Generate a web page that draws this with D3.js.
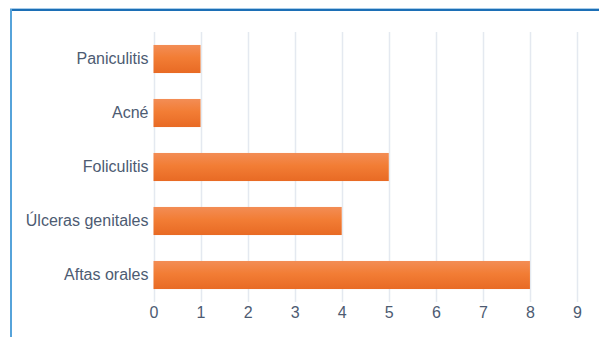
<!DOCTYPE html>
<html>
<head>
<meta charset="utf-8">
<script src="https://cdn.jsdelivr.net/npm/d3@7"></script>
<style>
  html, body { margin: 0; padding: 0; background: #fff; }
  svg { display: block; }
</style>
</head>
<body>
<script>
// Chart data
const categories = ['Paniculitis', 'Acné', 'Foliculitis', 'Úlceras genitales', 'Aftas orales'];
const values = [1, 1, 5, 4, 8];
const xTicks = [0, 1, 2, 3, 4, 5, 6, 7, 8, 9];

const width = 599, height = 337;
const margin = { top: 32, right: 22, bottom: 35, left: 153.5 };

const svg = d3.select('body').append('svg')
    .attr('width', width)
    .attr('height', height);

// Bar gradient
const grad = svg.append('defs').append('linearGradient')
    .attr('id', 'barGrad')
    .attr('x1', 0).attr('y1', 0).attr('x2', 0).attr('y2', 1);
grad.append('stop').attr('offset', '0%').attr('stop-color', '#f38d55');
grad.append('stop').attr('offset', '45%').attr('stop-color', '#f27d35');
grad.append('stop').attr('offset', '100%').attr('stop-color', '#e86a24');

// Frame (clipped at right and bottom)
svg.append('rect').attr('x', 10).attr('y', 8).attr('width', width - 10).attr('height', 1).attr('fill', '#a9cdea');
svg.append('rect').attr('x', 10).attr('y', 9).attr('width', width - 10).attr('height', 2).attr('fill', '#1c6fb6');
svg.append('rect').attr('x', 10).attr('y', 9).attr('width', 2).attr('height', height - 9).attr('fill', '#56a3da');

const x = d3.scaleLinear()
    .domain([0, 9])
    .range([margin.left, width - margin.right]);

const y = d3.scaleBand()
    .domain(categories)
    .range([margin.top, height - margin.bottom])
    .paddingInner(0.48)
    .paddingOuter(0.24);

// Gridlines
svg.append('g')
    .selectAll('line')
    .data(xTicks)
    .join('line')
    .attr('x1', d => Math.round(x(d)) + 0.5)
    .attr('x2', d => Math.round(x(d)) + 0.5)
    .attr('y1', margin.top)
    .attr('y2', height - margin.bottom)
    .attr('stroke', '#e4e9f0')
    .attr('stroke-width', 1.5);

// Bars
svg.append('g')
    .selectAll('rect')
    .data(values)
    .join('rect')
    .attr('x', x(0))
    .attr('y', (d, i) => y(categories[i]))
    .attr('width', d => x(d) - x(0))
    .attr('height', y.bandwidth())
    .attr('fill', 'url(#barGrad)');

// X axis labels
const xAxis = svg.append('g')
    .attr('transform', `translate(0,${height - margin.bottom})`)
    .call(d3.axisBottom(x).tickValues(xTicks).tickSize(0).tickPadding(5).tickFormat(d3.format('d')));
xAxis.select('.domain').remove();
xAxis.selectAll('text')
    .attr('font-family', 'Liberation Sans, Arial, sans-serif')
    .attr('font-size', 16)
    .attr('fill', '#4d5b72');

// Y axis labels
const yAxis = svg.append('g')
    .attr('transform', `translate(${margin.left},0)`)
    .call(d3.axisLeft(y).tickSize(0).tickPadding(5));
yAxis.select('.domain').remove();
yAxis.selectAll('text')
    .attr('font-family', 'Liberation Sans, Arial, sans-serif')
    .attr('font-size', 16)
    .attr('fill', '#4d5b72');
</script>
</body>
</html>
